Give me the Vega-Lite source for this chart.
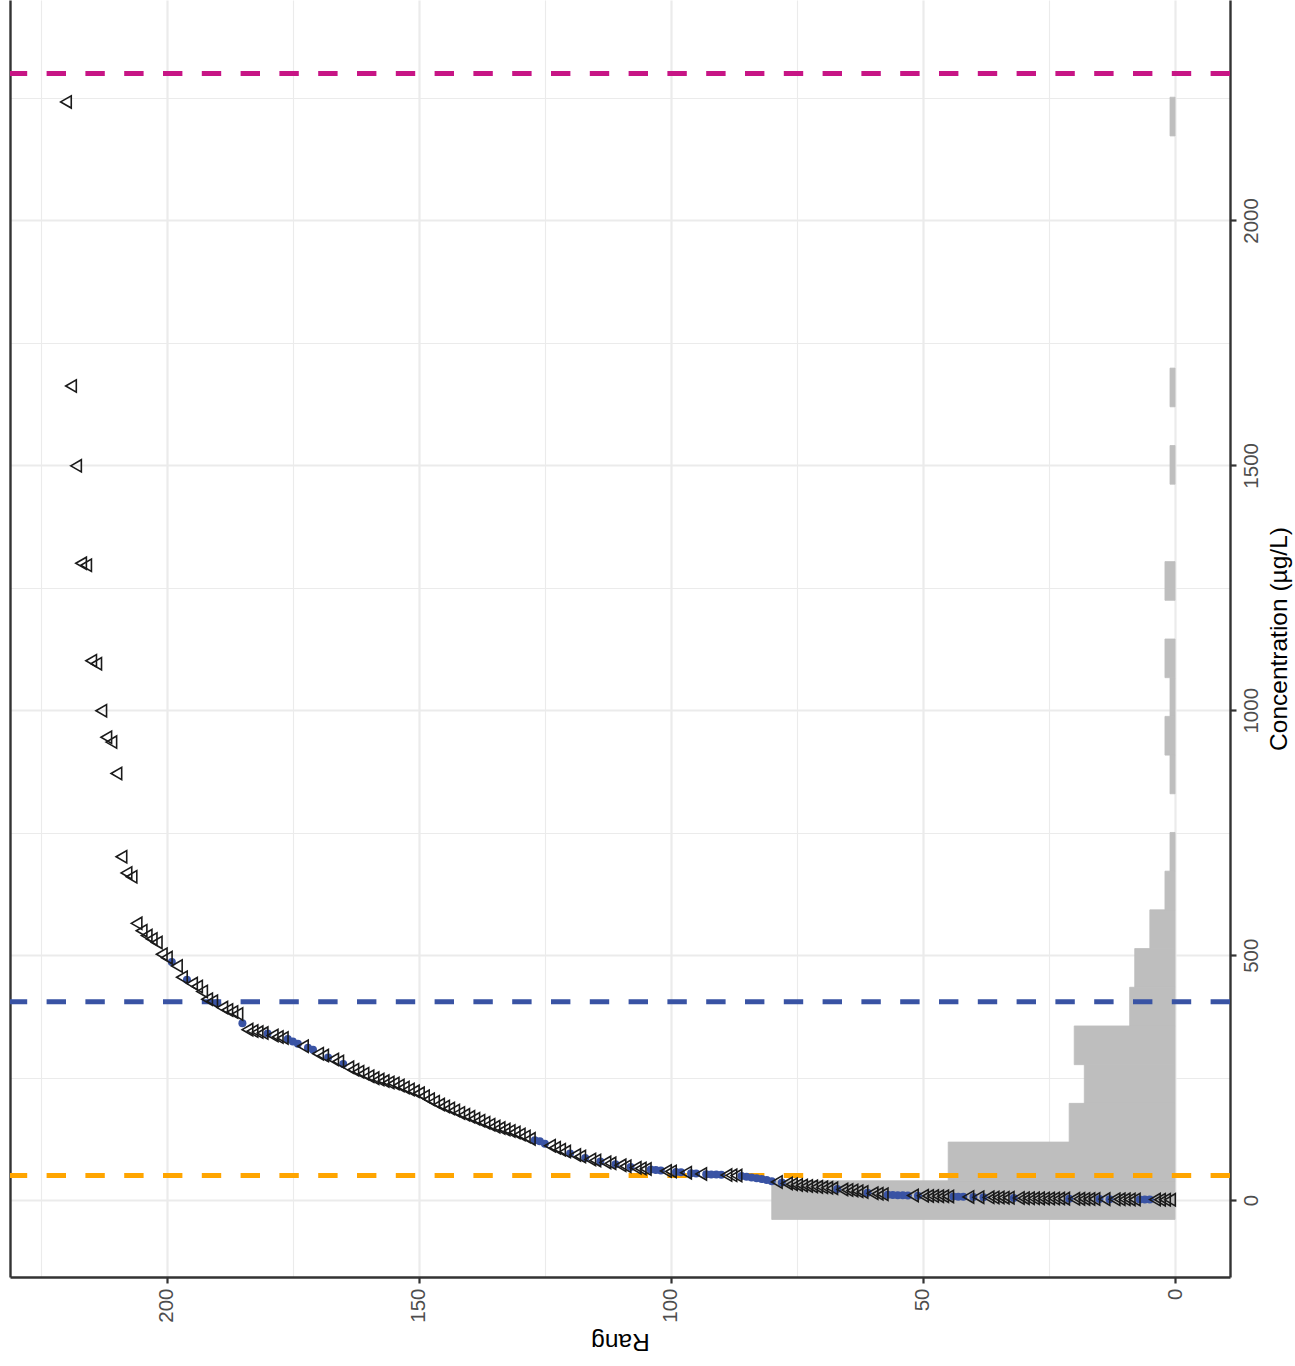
{
  "$schema": "https://vega.github.io/schema/vega-lite/v6.json",
  "width": 1220,
  "height": 1277,
  "autosize": {"type": "none"},
  "padding": {"left": 10, "top": 0, "right": 65, "bottom": 89},
  "background": "white",
  "config": {"view": {"stroke": null}, "font": "Liberation Sans"},
  "datasets": {
    "pts": [
      {"rang":1,"conc":0.5,"type":"T"},{"rang":2,"conc":0.6,"type":"T"},{"rang":3,"conc":0.8,"type":"T"},{"rang":4,"conc":1.0,"type":"T"},
      {"rang":5,"conc":1.0,"type":"B"},{"rang":6,"conc":1.1,"type":"B"},{"rang":7,"conc":1.2,"type":"B"},{"rang":8,"conc":1.3,"type":"T"},
      {"rang":9,"conc":1.4,"type":"T"},{"rang":10,"conc":1.5,"type":"T"},{"rang":11,"conc":1.6,"type":"T"},{"rang":12,"conc":1.7,"type":"T"},
      {"rang":13,"conc":1.8,"type":"B"},{"rang":14,"conc":2.0,"type":"T"},{"rang":15,"conc":2.1,"type":"B"},{"rang":16,"conc":2.2,"type":"T"},
      {"rang":17,"conc":2.3,"type":"T"},{"rang":18,"conc":2.4,"type":"T"},{"rang":19,"conc":2.5,"type":"T"},{"rang":20,"conc":2.6,"type":"T"},
      {"rang":21,"conc":2.8,"type":"B"},{"rang":22,"conc":3.0,"type":"T"},{"rang":23,"conc":3.1,"type":"T"},{"rang":24,"conc":3.2,"type":"T"},
      {"rang":25,"conc":3.3,"type":"T"},{"rang":26,"conc":3.4,"type":"T"},{"rang":27,"conc":3.5,"type":"T"},{"rang":28,"conc":3.6,"type":"T"},
      {"rang":29,"conc":3.8,"type":"T"},{"rang":30,"conc":4.0,"type":"T"},{"rang":31,"conc":4.2,"type":"T"},{"rang":32,"conc":4.5,"type":"B"},
      {"rang":33,"conc":4.8,"type":"T"},{"rang":34,"conc":5.0,"type":"T"},{"rang":35,"conc":5.2,"type":"T"},{"rang":36,"conc":5.4,"type":"T"},
      {"rang":37,"conc":5.6,"type":"T"},{"rang":38,"conc":5.8,"type":"B"},{"rang":39,"conc":6.0,"type":"T"},{"rang":40,"conc":6.2,"type":"B"},
      {"rang":41,"conc":6.5,"type":"T"},{"rang":42,"conc":6.7,"type":"B"},{"rang":43,"conc":7.0,"type":"B"},{"rang":44,"conc":7.2,"type":"B"},
      {"rang":45,"conc":7.5,"type":"T"},{"rang":46,"conc":7.8,"type":"T"},{"rang":47,"conc":8.0,"type":"T"},{"rang":48,"conc":8.2,"type":"T"},
      {"rang":49,"conc":8.5,"type":"T"},{"rang":50,"conc":8.8,"type":"T"},{"rang":51,"conc":9.0,"type":"B"},{"rang":52,"conc":9.3,"type":"T"},
      {"rang":53,"conc":9.5,"type":"B"},{"rang":54,"conc":9.8,"type":"B"},{"rang":55,"conc":10.0,"type":"B"},{"rang":56,"conc":10.5,"type":"B"},
      {"rang":57,"conc":11.0,"type":"B"},{"rang":58,"conc":12.0,"type":"T"},{"rang":59,"conc":13,"type":"T"},{"rang":60,"conc":14,"type":"T"},
      {"rang":61,"conc":15,"type":"B"},{"rang":62,"conc":16.5,"type":"T"},{"rang":63,"conc":18,"type":"T"},{"rang":64,"conc":19.5,"type":"T"},
      {"rang":65,"conc":20.5,"type":"T"},{"rang":66,"conc":21.5,"type":"T"},{"rang":67,"conc":22.5,"type":"B"},{"rang":68,"conc":24,"type":"T"},
      {"rang":69,"conc":25,"type":"T"},{"rang":70,"conc":26,"type":"T"},{"rang":71,"conc":27,"type":"T"},{"rang":72,"conc":28,"type":"T"},
      {"rang":73,"conc":29,"type":"T"},{"rang":74,"conc":30,"type":"T"},{"rang":75,"conc":31,"type":"T"},{"rang":76,"conc":32.5,"type":"T"},
      {"rang":77,"conc":34,"type":"T"},{"rang":78,"conc":36,"type":"B"},{"rang":79,"conc":37,"type":"T"},{"rang":80,"conc":38.5,"type":"B"},
      {"rang":81,"conc":41,"type":"B"},{"rang":82,"conc":43,"type":"B"},{"rang":83,"conc":44.5,"type":"B"},{"rang":84,"conc":46,"type":"B"},
      {"rang":85,"conc":47.5,"type":"B"},{"rang":86,"conc":49,"type":"B"},{"rang":87,"conc":50,"type":"T"},{"rang":88,"conc":50.5,"type":"T"},
      {"rang":89,"conc":51,"type":"T"},{"rang":90,"conc":51.5,"type":"B"},{"rang":91,"conc":52,"type":"B"},{"rang":92,"conc":52.5,"type":"B"},
      {"rang":93,"conc":53,"type":"B"},{"rang":94,"conc":53.5,"type":"T"},{"rang":95,"conc":54.5,"type":"B"},{"rang":96,"conc":55,"type":"B"},
      {"rang":97,"conc":56,"type":"T"},{"rang":98,"conc":57,"type":"B"},{"rang":99,"conc":57.5,"type":"B"},{"rang":100,"conc":58.5,"type":"T"},
      {"rang":101,"conc":59.5,"type":"T"},{"rang":102,"conc":60.5,"type":"B"},{"rang":103,"conc":61.5,"type":"B"},{"rang":104,"conc":62.5,"type":"B"},
      {"rang":105,"conc":63.5,"type":"T"},{"rang":106,"conc":64.5,"type":"T"},{"rang":107,"conc":66,"type":"T"},{"rang":108,"conc":67.5,"type":"B"},
      {"rang":109,"conc":69,"type":"T"},{"rang":110,"conc":71,"type":"T"},{"rang":111,"conc":73,"type":"B"},{"rang":112,"conc":75,"type":"T"},
      {"rang":113,"conc":77,"type":"T"},{"rang":114,"conc":79,"type":"B"},{"rang":115,"conc":81,"type":"T"},{"rang":116,"conc":83,"type":"T"},
      {"rang":117,"conc":86,"type":"B"},{"rang":118,"conc":89,"type":"T"},{"rang":119,"conc":92,"type":"T"},{"rang":120,"conc":95,"type":"B"},
      {"rang":121,"conc":99,"type":"T"},{"rang":122,"conc":103,"type":"T"},{"rang":123,"conc":107,"type":"T"},{"rang":124,"conc":111,"type":"T"},
      {"rang":125,"conc":115,"type":"B"},{"rang":126,"conc":120,"type":"B"},{"rang":127,"conc":122,"type":"B"},{"rang":128,"conc":125,"type":"T"},
      {"rang":129,"conc":130,"type":"T"},{"rang":130,"conc":134,"type":"T"},{"rang":131,"conc":138,"type":"T"},{"rang":132,"conc":141,"type":"T"},
      {"rang":133,"conc":144,"type":"T"},{"rang":134,"conc":147,"type":"T"},{"rang":135,"conc":150,"type":"T"},{"rang":136,"conc":154,"type":"T"},
      {"rang":137,"conc":158,"type":"T"},{"rang":138,"conc":162,"type":"T"},{"rang":139,"conc":166,"type":"T"},{"rang":140,"conc":170,"type":"T"},
      {"rang":141,"conc":174,"type":"T"},{"rang":142,"conc":178,"type":"T"},{"rang":143,"conc":183,"type":"T"},{"rang":144,"conc":187,"type":"T"},
      {"rang":145,"conc":191,"type":"T"},{"rang":146,"conc":195,"type":"T"},{"rang":147,"conc":201,"type":"T"},{"rang":148,"conc":206,"type":"T"},
      {"rang":149,"conc":212,"type":"T"},{"rang":150,"conc":218,"type":"T"},{"rang":151,"conc":222,"type":"T"},{"rang":152,"conc":226,"type":"T"},
      {"rang":153,"conc":230,"type":"T"},{"rang":154,"conc":234,"type":"T"},{"rang":155,"conc":238,"type":"T"},{"rang":156,"conc":240,"type":"T"},
      {"rang":157,"conc":243,"type":"T"},{"rang":158,"conc":246,"type":"T"},{"rang":159,"conc":249,"type":"T"},{"rang":160,"conc":253,"type":"T"},
      {"rang":161,"conc":258,"type":"T"},{"rang":162,"conc":262,"type":"T"},{"rang":163,"conc":266,"type":"T"},{"rang":164,"conc":271,"type":"T"},
      {"rang":165,"conc":278,"type":"B"},{"rang":166,"conc":283,"type":"T"},{"rang":167,"conc":287,"type":"T"},{"rang":168,"conc":291,"type":"B"},
      {"rang":169,"conc":295,"type":"T"},{"rang":170,"conc":299,"type":"T"},{"rang":171,"conc":307,"type":"B"},{"rang":172,"conc":311,"type":"B"},
      {"rang":173,"conc":314,"type":"T"},{"rang":174,"conc":319,"type":"B"},{"rang":175,"conc":324,"type":"B"},{"rang":176,"conc":329,"type":"B"},
      {"rang":177,"conc":331,"type":"T"},{"rang":178,"conc":333,"type":"T"},{"rang":179,"conc":336,"type":"T"},{"rang":180,"conc":340,"type":"B"},
      {"rang":181,"conc":341,"type":"T"},{"rang":182,"conc":343,"type":"T"},{"rang":183,"conc":345,"type":"T"},{"rang":184,"conc":348,"type":"T"},
      {"rang":185,"conc":361,"type":"B"},{"rang":186,"conc":380,"type":"T"},{"rang":187,"conc":384,"type":"T"},{"rang":188,"conc":388,"type":"T"},
      {"rang":189,"conc":393,"type":"T"},{"rang":190,"conc":402,"type":"B"},{"rang":191,"conc":406,"type":"T"},{"rang":192,"conc":410,"type":"T"},
      {"rang":193,"conc":426,"type":"T"},{"rang":194,"conc":436,"type":"T"},{"rang":195,"conc":442,"type":"T"},{"rang":196,"conc":450,"type":"B"},
      {"rang":197,"conc":455,"type":"T"},{"rang":198,"conc":478,"type":"T"},{"rang":199,"conc":486,"type":"B"},{"rang":200,"conc":495,"type":"T"},
      {"rang":201,"conc":502,"type":"T"},{"rang":202,"conc":526,"type":"T"},{"rang":203,"conc":533,"type":"T"},{"rang":204,"conc":540,"type":"T"},
      {"rang":205,"conc":550,"type":"T"},{"rang":206,"conc":565,"type":"T"},{"rang":207,"conc":660,"type":"T"},{"rang":208,"conc":668,"type":"T"},
      {"rang":209,"conc":701,"type":"T"},{"rang":210,"conc":871,"type":"T"},{"rang":211,"conc":935,"type":"T"},{"rang":212,"conc":945,"type":"T"},
      {"rang":213,"conc":999,"type":"T"},{"rang":214,"conc":1095,"type":"T"},{"rang":215,"conc":1101,"type":"T"},{"rang":216,"conc":1296,"type":"T"},
      {"rang":217,"conc":1300,"type":"T"},{"rang":218,"conc":1499,"type":"T"},{"rang":219,"conc":1662,"type":"T"},{"rang":220,"conc":2242,"type":"T"}
    ],
    "seuils": [
      {"seuil": "a", "valeur": 50},
      {"seuil": "b", "valeur": 405},
      {"seuil": "c", "valeur": 2300}
    ]
  },
  "resolve": {"axis": {"x": "independent", "y": "independent"}},
  "layer": [
    {
      "data": {"name": "pts"},
      "transform": [
        {"bin": {"step": 79, "extent": [-39.5, 2251.5], "nice": false}, "field": "conc", "as": ["b0", "b1"]},
        {"aggregate": [{"op": "count", "as": "n"}], "groupby": ["b0", "b1"]}
      ],
      "mark": {"type": "rect", "color": "#bebebe", "stroke": "#bebebe", "strokeWidth": 0.8},
      "encoding": {
        "x": {"field": "n", "type": "quantitative",
              "scale": {"domain": [-10.9, 231.1], "reverse": true, "nice": false, "zero": false},
              "axis": {"orient": "top", "values": [25, 75, 125, 175, 225], "grid": true, "gridColor": "#ebebeb", "gridWidth": 1.1,
                       "domain": false, "ticks": false, "labels": false, "title": null}},
        "x2": {"datum": 0},
        "y": {"field": "b0", "type": "quantitative",
              "scale": {"domain": [-157, 2450], "nice": false, "zero": false},
              "axis": {"orient": "left", "values": [250, 750, 1250, 1750, 2250], "grid": true, "gridColor": "#ebebeb", "gridWidth": 1.1,
                       "domain": true, "domainColor": "#333333", "domainWidth": 2.4, "ticks": false, "labels": false, "title": null}},
        "y2": {"field": "b1"}
      }
    },
    {
      "data": {"name": "seuils"},
      "mark": {"type": "rule", "strokeWidth": 5, "strokeDash": [19.4, 19.4]},
      "encoding": {
        "y": {"field": "valeur", "type": "quantitative", "scale": {"domain": [-157, 2450], "nice": false, "zero": false}, "axis": null},
        "color": {"field": "seuil", "type": "nominal", "scale": {"domain": ["a", "b", "c"], "range": ["#FFA500", "#3953A4", "#C71585"]}, "legend": null}
      }
    },
    {
      "data": {"name": "pts"},
      "transform": [{"filter": "datum.type === 'B'"}],
      "mark": {"type": "point", "shape": "circle", "filled": true, "color": "#3953A4", "size": 64, "opacity": 1},
      "encoding": {
        "x": {"field": "rang", "type": "quantitative", "scale": {"domain": [-10.9, 231.1], "reverse": true, "nice": false, "zero": false}, "axis": null},
        "y": {"field": "conc", "type": "quantitative", "scale": {"domain": [-157, 2450], "nice": false, "zero": false}, "axis": null}
      }
    },
    {
      "data": {"name": "pts"},
      "transform": [{"filter": "datum.type === 'T'"}],
      "mark": {"type": "point", "shape": "triangle-left", "filled": false, "stroke": "#1a1a1a", "strokeWidth": 1.6, "size": 150, "opacity": 1},
      "encoding": {
        "x": {"field": "rang", "type": "quantitative",
              "scale": {"domain": [-10.9, 231.1], "reverse": true, "nice": false, "zero": false},
              "axis": {"orient": "bottom", "values": [0, 50, 100, 150, 200], "title": "Rang", "format": "d",
                       "grid": true, "gridColor": "#ebebeb", "gridWidth": 2.2,
                       "domain": true, "domainColor": "#333333", "domainWidth": 2.4,
                       "ticks": true, "tickSize": 6, "tickColor": "#333333", "tickWidth": 2.2,
                       "labelAngle": -90, "labelAlign": "right", "labelBaseline": "middle", "labelPadding": 5,
                       "labelFontSize": 20.5, "labelColor": "#4d4d4d", "labelFlush": false, "labelOverlap": false,
                       "titleAngle": 180, "titleBaseline": "bottom", "titlePadding": 6, "titleFontSize": 24.5,
                       "titleFontWeight": "normal", "titleColor": "#000000"}},
        "y": {"field": "conc", "type": "quantitative",
              "scale": {"domain": [-157, 2450], "nice": false, "zero": false},
              "axis": {"orient": "right", "values": [0, 500, 1000, 1500, 2000], "title": "Concentration (µg/L)", "format": "d",
                       "grid": true, "gridColor": "#ebebeb", "gridWidth": 2.2,
                       "domain": true, "domainColor": "#333333", "domainWidth": 2.4,
                       "ticks": true, "tickSize": 6, "tickColor": "#333333", "tickWidth": 2.2,
                       "labelAngle": -90, "labelAlign": "center", "labelBaseline": "top", "labelPadding": 5,
                       "labelFontSize": 20.5, "labelColor": "#4d4d4d", "labelFlush": false, "labelOverlap": false,
                       "titleAngle": -90, "titleBaseline": "top", "titlePadding": 6, "titleFontSize": 24.5,
                       "titleFontWeight": "normal", "titleColor": "#000000"}}
      }
    }
  ]
}
